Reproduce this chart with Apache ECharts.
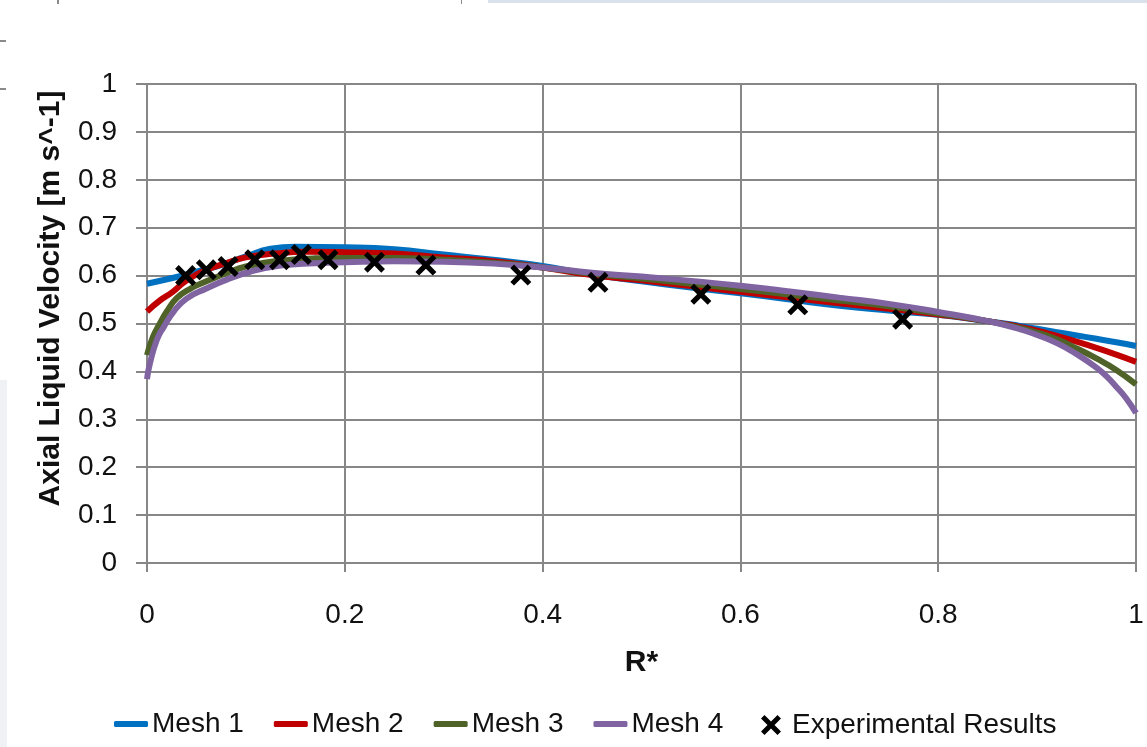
<!DOCTYPE html>
<html>
<head>
<meta charset="utf-8">
<script src="https://cdn.jsdelivr.net/npm/echarts@6/dist/echarts.min.js"></script>
<style>
  html, body { margin: 0; padding: 0; background: #fff; }
  #chart { width: 1147px; height: 747px; }
</style>
</head>
<body>
<div id="chart"></div>
<script>
// Radial position R* and axial liquid velocity (m/s) for each mesh
const mesh1R = [0, 0.03, 0.05, 0.075, 0.1, 0.125, 0.15, 0.2, 0.25, 0.3, 0.35, 0.4, 0.45, 0.5, 0.55, 0.6, 0.65, 0.7, 0.75, 0.8, 0.85, 0.88, 0.9, 0.92, 0.94, 0.96, 0.98, 1.0];
const mesh1V = [0.583, 0.597, 0.608, 0.622, 0.640, 0.656, 0.660, 0.659, 0.655, 0.644, 0.633, 0.620, 0.602, 0.588, 0.575, 0.563, 0.550, 0.537, 0.527, 0.518, 0.505, 0.496, 0.489, 0.482, 0.475, 0.468, 0.461, 0.453];

const mesh2R = [0, 0.013, 0.026, 0.04, 0.06, 0.08, 0.1, 0.13, 0.16, 0.2, 0.25, 0.3, 0.35, 0.4, 0.45, 0.5, 0.55, 0.6, 0.65, 0.7, 0.75, 0.8, 0.85, 0.88, 0.9, 0.92, 0.94, 0.96, 0.98, 1.0];
const mesh2V = [0.525, 0.548, 0.566, 0.590, 0.612, 0.626, 0.638, 0.646, 0.650, 0.649, 0.646, 0.638, 0.630, 0.617, 0.601, 0.590, 0.578, 0.566, 0.554, 0.542, 0.531, 0.519, 0.505, 0.494, 0.485, 0.474, 0.462, 0.449, 0.435, 0.420];

const mesh3R = [0, 0.006, 0.013, 0.02, 0.03, 0.044, 0.06, 0.08, 0.1, 0.13, 0.17, 0.2, 0.25, 0.3, 0.35, 0.4, 0.45, 0.5, 0.55, 0.6, 0.65, 0.7, 0.75, 0.8, 0.85, 0.88, 0.9, 0.92, 0.94, 0.96, 0.98, 1.0];
const mesh3V = [0.434, 0.472, 0.500, 0.525, 0.553, 0.573, 0.588, 0.605, 0.619, 0.630, 0.636, 0.637, 0.637, 0.633, 0.627, 0.617, 0.604, 0.594, 0.583, 0.572, 0.560, 0.548, 0.536, 0.521, 0.505, 0.492, 0.481, 0.467, 0.448, 0.427, 0.403, 0.373];

const mesh4R = [0, 0.003, 0.01, 0.017, 0.027, 0.04, 0.06, 0.08, 0.104, 0.135, 0.17, 0.2, 0.25, 0.3, 0.35, 0.4, 0.45, 0.5, 0.55, 0.6, 0.65, 0.7, 0.75, 0.8, 0.85, 0.88, 0.9, 0.92, 0.94, 0.96, 0.97, 0.98, 0.99, 1.0];
const mesh4V = [0.384, 0.417, 0.466, 0.493, 0.525, 0.552, 0.573, 0.591, 0.608, 0.621, 0.626, 0.628, 0.630, 0.629, 0.625, 0.617, 0.606, 0.598, 0.589, 0.579, 0.567, 0.554, 0.541, 0.524, 0.505, 0.490, 0.476, 0.459, 0.436, 0.408, 0.390, 0.368, 0.344, 0.313];

// Measured profile
const expR = [0.039, 0.060, 0.082, 0.109, 0.134, 0.156, 0.183, 0.230, 0.282, 0.378, 0.456, 0.560, 0.658, 0.764];
const expV = [0.600, 0.612, 0.619, 0.633, 0.633, 0.644, 0.633, 0.628, 0.622, 0.601, 0.586, 0.561, 0.539, 0.509];

const seriesNames = ['Mesh 1', 'Mesh 2', 'Mesh 3', 'Mesh 4', 'Experimental Results'];
const meshColors = ['#0070C0', '#C00000', '#4F6228', '#8064A2'];
const xTicks = [0, 0.2, 0.4, 0.6, 0.8, 1];

const pairs = (xs, ys) => xs.map((x, i) => [x, ys[i]]);
const crossPath = 'path://M0,7 L7,0 L20,13 L33,0 L40,7 L27,20 L40,33 L33,40 L20,27 L7,40 L0,33 L13,20 Z';

const gridColor = '#878787';
const labelFont = '"Liberation Sans", Arial, sans-serif';

const meshData = [pairs(mesh1R, mesh1V), pairs(mesh2R, mesh2V), pairs(mesh3R, mesh3V), pairs(mesh4R, mesh4V)];

const lineSeries = meshData.map((d, i) => ({
  name: seriesNames[i],
  type: 'line',
  data: d,
  symbol: 'none',
  smooth: 0.5,
  lineStyle: { color: meshColors[i], width: 6 },
  itemStyle: { color: meshColors[i] },
  z: 2 + i
}));

const chart = echarts.init(document.getElementById('chart'), null, { renderer: 'canvas' });

chart.setOption({
  animation: false,
  backgroundColor: '#ffffff',
  grid: { left: 147, right: 11, top: 84, bottom: 184, containLabel: false },
  xAxis: {
    type: 'value',
    min: 0, max: 1, interval: 0.2,
    name: 'R*',
    nameLocation: 'middle',
    nameGap: 85,
    nameTextStyle: { fontFamily: labelFont, fontWeight: 'bold', fontSize: 30, color: '#111' },
    axisLine: { show: true, onZero: false, lineStyle: { color: gridColor, width: 2 } },
    axisTick: { show: true, length: 9, lineStyle: { color: gridColor, width: 2 } },
    axisLabel: {
      margin: 38, fontFamily: labelFont, fontSize: 28, color: '#111',
      formatter: v => xTicks.includes(+v.toFixed(1)) ? String(+v.toFixed(1)) : ''
    },
    splitLine: { show: true, lineStyle: { color: gridColor, width: 2 } }
  },
  yAxis: {
    type: 'value',
    min: 0, max: 1, interval: 0.1,
    name: 'Axial Liquid Velocity [m s^-1]',
    nameLocation: 'middle',
    nameGap: 81,
    nameTextStyle: { fontFamily: labelFont, fontWeight: 'bold', fontSize: 30, color: '#111', padding: [0, 0, 0, 50] },
    axisLine: { show: true, lineStyle: { color: gridColor, width: 2 } },
    axisTick: { show: true, length: 11, lineStyle: { color: gridColor, width: 2 } },
    axisLabel: {
      margin: 30, fontFamily: labelFont, fontSize: 28, color: '#111',
      formatter: v => String(+v.toFixed(1))
    },
    splitLine: { show: true, lineStyle: { color: gridColor, width: 2 } }
  },
  legend: [
    {
      data: seriesNames.slice(0, 4).map(n => ({ name: n, icon: 'roundRect' })),
      left: 114, top: 710, padding: 0,
      itemWidth: 34, itemHeight: 6, itemGap: 30,
      textStyle: { fontFamily: labelFont, fontSize: 28, color: '#111', padding: [0, 0, 0, -1] }
    },
    {
      data: [{ name: seriesNames[4], icon: crossPath, itemStyle: { color: '#000000', opacity: 1 } }],
      left: 761, top: 711, padding: 0,
      itemWidth: 20, itemHeight: 20,
      textStyle: { fontFamily: labelFont, fontSize: 28, color: '#111', padding: [0, 0, 0, 6] }
    }
  ],
  series: [
    ...lineSeries,
    {
      name: seriesNames[4],
      type: 'scatter',
      data: pairs(expR, expV),
      symbol: crossPath,
      symbolSize: 21,
      itemStyle: { color: '#000000', opacity: 1 },
      z: 10
    }
  ],
  graphic: [
    { type: 'rect', shape: { x: 488, y: 0, width: 659, height: 3 }, style: { fill: '#d9e1ec' }, silent: true },
    { type: 'rect', shape: { x: 0, y: 380, width: 7, height: 367 }, style: { fill: '#eff1f4' }, silent: true },
    { type: 'rect', shape: { x: 0, y: 40, width: 6, height: 2 }, style: { fill: '#8a8a8a' }, silent: true },
    { type: 'rect', shape: { x: 0, y: 88, width: 6, height: 2 }, style: { fill: '#8a8a8a' }, silent: true },
    { type: 'rect', shape: { x: 57, y: 0, width: 2, height: 4 }, style: { fill: '#8a8a8a' }, silent: true },
    { type: 'rect', shape: { x: 461, y: 0, width: 1, height: 4 }, style: { fill: '#8a8a8a' }, silent: true }
  ]
});
</script>
</body>
</html>
